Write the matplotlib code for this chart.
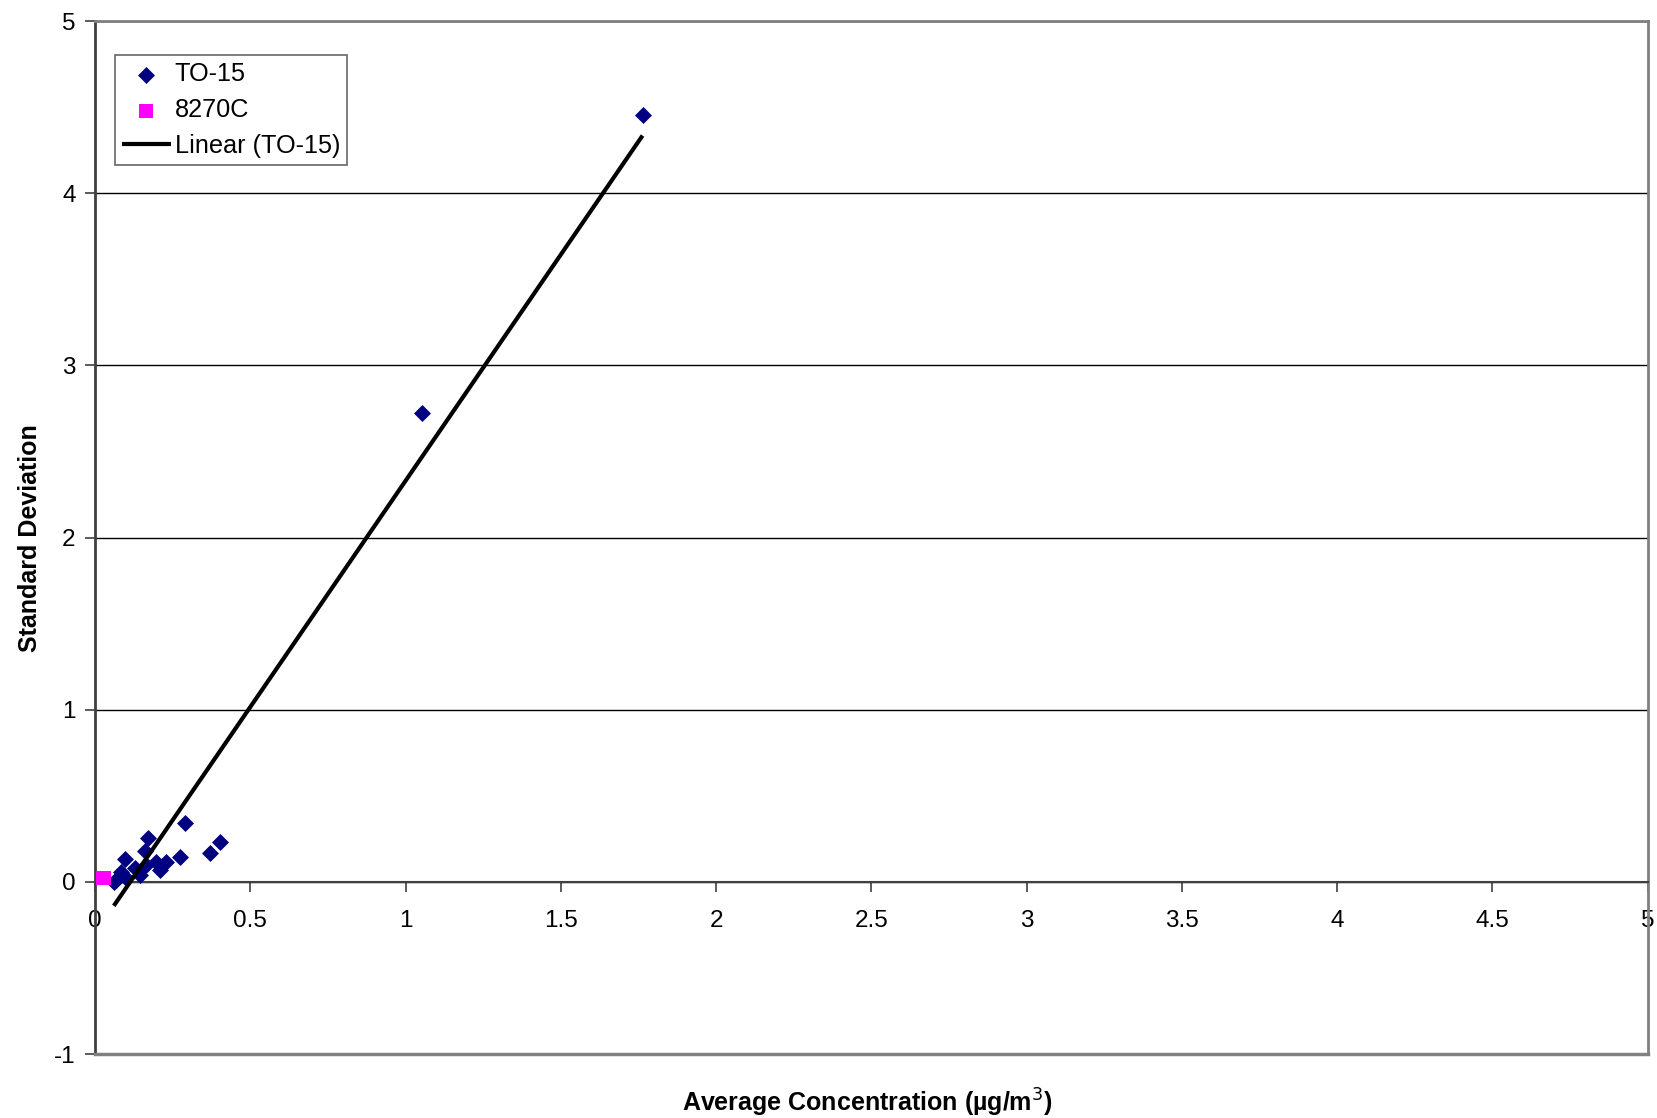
import numpy as np
import matplotlib.pyplot as plt

plt.rcParams['font.family'] = ['Liberation Sans', 'DejaVu Sans']
plt.rcParams['axes.unicode_minus'] = False

# TO-15 average concentration vs standard deviation
to15_avg = [0.060, 0.068, 0.084, 0.095, 0.100, 0.127, 0.143, 0.159, 0.165, 0.170,
            0.197, 0.208, 0.229, 0.272, 0.288, 0.371, 0.401, 1.052, 1.763]
to15_std = [0.000, 0.011, 0.059, 0.131, 0.021, 0.079, 0.040, 0.180, 0.098, 0.257,
            0.117, 0.069, 0.117, 0.146, 0.344, 0.170, 0.230, 2.723, 4.456]

m8270_avg = [0.024, 0.028]
m8270_std = [0.022, 0.025]

# Excel linear trendline for TO-15
trend_slope = 2.627
trend_intercept = -0.296

fig = plt.figure(figsize=(16.58, 11.18), dpi=100)
ax = fig.add_axes([0.0574, 0.0571, 0.9363, 0.9240])

ax.scatter(to15_avg, to15_std, marker='D', s=75, color='#000080', zorder=3,
           label='TO-15', linewidths=0)
ax.scatter(m8270_avg, m8270_std, marker='s', s=115, color='#FF00FF', zorder=3,
           label='8270C', linewidths=0)

xs = np.array([min(to15_avg), max(to15_avg)])
ax.plot(xs, trend_slope * xs + trend_intercept, color='black', lw=3,
        zorder=4, label='Linear (TO-15)', solid_capstyle='butt')

ax.set_xlim(0, 5)
ax.set_ylim(-1, 5)
ax.set_xticks(np.arange(0, 5.01, 0.5))
ax.set_xticklabels(['0', '0.5', '1', '1.5', '2', '2.5', '3', '3.5', '4', '4.5', '5'])
ax.set_yticks(range(-1, 6))

ax.yaxis.grid(True, color='black', lw=1.0)
ax.set_axisbelow(True)

for s in ['top', 'right']:
    ax.spines[s].set_color('#808080')
    ax.spines[s].set_linewidth(2)
ax.spines['left'].set_color('#404040')
ax.spines['left'].set_linewidth(2)
ax.spines['bottom'].set_position(('data', 0))
ax.spines['bottom'].set_color('#404040')
ax.spines['bottom'].set_linewidth(1.5)
ax.axhline(-1, color='#808080', lw=2.5, clip_on=False, zorder=5)

ax.tick_params(axis='both', direction='out', length=7, width=1.2,
               labelsize=17.5, color='#404040')
ax.tick_params(axis='x', pad=13)
ax.tick_params(axis='y', pad=7)

ax.set_xlabel('Average Concentration (\u00b5g/m$^3$)', fontsize=18,
              fontweight='bold')
ax.xaxis.set_label_coords(0.497, -0.032)
ax.set_ylabel('Standard Deviation', fontsize=18, fontweight='bold')
ax.yaxis.set_label_coords(-0.034, 0.5)

leg = ax.legend(loc='upper left', bbox_to_anchor=(0.0125, 0.967), fontsize=18.2,
                frameon=True, fancybox=False, borderpad=0.28, labelspacing=0.47,
                handlelength=1.95, handletextpad=0.15, borderaxespad=0)
leg.get_frame().set_edgecolor('#404040')
leg.get_frame().set_linewidth(1.2)

fig.savefig('out.png', dpi=100)
